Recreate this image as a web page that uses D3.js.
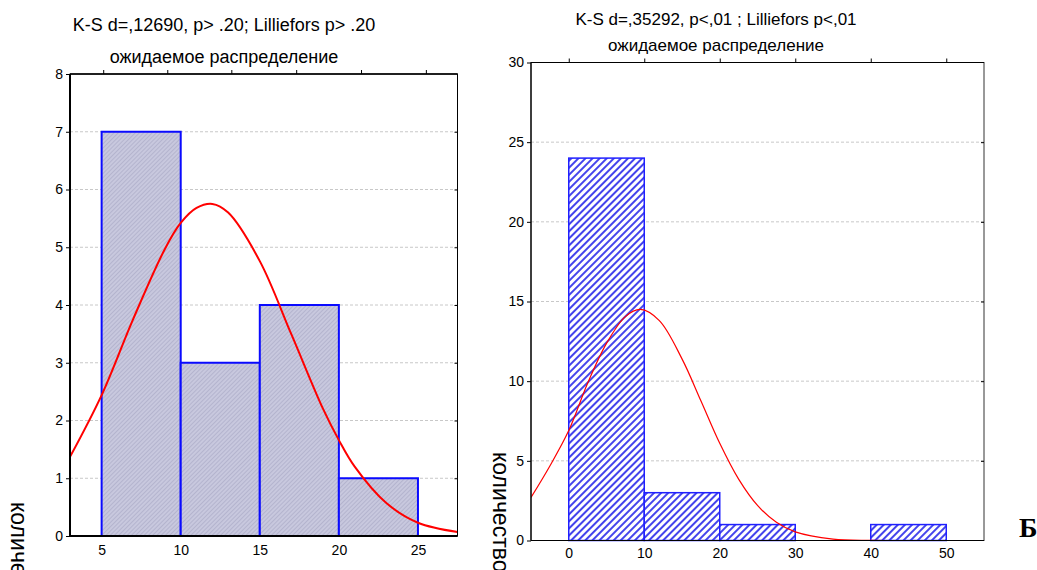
<!DOCTYPE html>
<meta charset="utf-8">
<style>
body { margin: 0; background: #fff; }
svg { display: block; font-family: Arial, "Liberation Sans", sans-serif; }
.grid line { stroke: #c8c8c8; stroke-dasharray: 3,2; }
.tick text { fill: #000; }
</style>
<body>
<script src="https://d3js.org/d3.v7.min.js"></script>
<script>

// ---- data ----
// left histogram (A)
var leftEdges  = [5, 10, 15, 20, 25];
var leftCounts = [7, 3, 4, 1];
var leftXTicks = [5, 10, 15, 20, 25];
var leftYTicks = [0, 1, 2, 3, 4, 5, 6, 7, 8];
var leftTopTicks = [5.1, 9.15, 13.2, 17.3, 21.4, 25.5];
// expected (fitted) curve
var leftCurveX = [3, 5, 7, 9, 10, 11, 12, 13, 15, 17, 19, 20, 21, 23, 25, 27.5];
var leftCurveY = [1.37, 2.44, 3.76, 4.97, 5.42, 5.68, 5.75, 5.6, 4.76, 3.49, 2.2, 1.66, 1.2, 0.57, 0.23, 0.07];
var leftTitle = ["K-S d=,12690, p> .20; Lilliefors p> .20", "ожидаемое распределение"];

// right histogram (Б)
var rightEdges  = [0, 10, 20, 30, 40, 50];
var rightCounts = [24, 3, 1, 0, 1];
var rightXTicks = [0, 10, 20, 30, 40, 50];
var rightYTicks = [0, 5, 10, 15, 20, 25, 30];
var rightCurveX = [-5, -2.5, 0, 2.5, 5, 7.5, 9.5, 12, 15, 17.5, 20, 22.5, 25, 27.5, 30, 35, 40, 45, 55];
var rightCurveY = [2.7, 4.68, 6.9, 9.87, 12.37, 14.05, 14.5, 13.8, 11.4, 8.77, 6.1, 3.85, 2.2, 1.14, 0.54, 0.09, 0.01, 0, 0];
var rightTitle = ["K-S d=,35292, p<,01 ; Lilliefors p<,01", "ожидаемое распределение"];

var yLabel = "количество";
var panelLetter = "Б";

var W = 1037, H = 570;
var svg = d3.select("body").append("svg").attr("width", W).attr("height", H);

// patterns
var defs = svg.append("defs");
var p1 = defs.append("pattern").attr("id", "fine")
    .attr("patternUnits", "userSpaceOnUse").attr("width", 3).attr("height", 3)
    .attr("patternTransform", "rotate(45)");
p1.append("rect").attr("width", 3).attr("height", 3).attr("fill", "#c8c8de");
p1.append("line").attr("x1", 0).attr("y1", 0).attr("x2", 0).attr("y2", 3)
    .attr("stroke", "#a6a6c4").attr("stroke-width", 1.2);

var p2 = defs.append("pattern").attr("id", "hatch")
    .attr("patternUnits", "userSpaceOnUse").attr("width", 5).attr("height", 5)
    .attr("patternTransform", "rotate(45)");
p2.append("rect").attr("width", 5).attr("height", 5).attr("fill", "#fff");
p2.append("line").attr("x1", 1).attr("y1", 0).attr("x2", 1).attr("y2", 5)
    .attr("stroke", "#1414e8").attr("stroke-width", 1.6);

function panel(o) {
  var x = d3.scaleLinear().domain(o.xDomain).range([o.left, o.right]);
  var y = d3.scaleLinear().domain(o.yDomain).range([o.bottom, o.top]);
  var g = svg.append("g");
  var clipId = "clip" + o.id;
  defs.append("clipPath").attr("id", clipId).append("rect")
      .attr("x", o.left).attr("y", o.top)
      .attr("width", o.right - o.left).attr("height", o.bottom - o.top);

  // horizontal grid
  g.append("g").attr("class", "grid")
    .selectAll("line").data(o.yTicks.slice(1, -1)).join("line")
      .attr("x1", o.left).attr("x2", o.right)
      .attr("y1", d => y(d)).attr("y2", d => y(d));

  // bars
  var bins = o.counts.map((c, i) => ({x0: o.edges[i], x1: o.edges[i + 1], c: c}));
  g.append("g").selectAll("rect").data(bins).join("rect")
      .attr("x", d => x(d.x0)).attr("width", d => x(d.x1) - x(d.x0))
      .attr("y", d => y(d.c)).attr("height", d => y(0) - y(d.c))
      .attr("fill", o.fill).attr("stroke", o.barStroke).attr("stroke-width", o.barWidth);

  // fitted curve
  var pts = o.curveX.map((v, i) => [v, o.curveY[i]]);
  g.append("path").datum(pts)
      .attr("clip-path", "url(#" + clipId + ")")
      .attr("fill", "none").attr("stroke", "#ff0000").attr("stroke-width", o.curveWidth)
      .attr("d", d3.line().x(d => x(d[0])).y(d => y(d[1])).curve(d3.curveCatmullRom.alpha(0.5)));

  // frame
  g.append("rect").attr("x", o.left).attr("y", o.top)
      .attr("width", o.right - o.left).attr("height", o.bottom - o.top)
      .attr("fill", "none").attr("stroke", o.frame).attr("stroke-width", 1);
  g.append("line").attr("x1", o.left).attr("x2", o.left).attr("y1", o.top).attr("y2", o.bottom)
      .attr("stroke", "#000").attr("stroke-width", o.axisWidth);
  g.append("line").attr("x1", o.left).attr("x2", o.right).attr("y1", o.bottom).attr("y2", o.bottom)
      .attr("stroke", "#000").attr("stroke-width", o.axisWidth);
  g.append("line").attr("x1", o.left).attr("x2", o.right).attr("y1", o.top).attr("y2", o.top)
      .attr("stroke", "#000").attr("stroke-width", o.axisWidth > 1.5 ? 1.5 : 1);

  // left axis
  var ya = g.append("g").attr("transform", "translate(" + o.left + ",0)")
      .call(d3.axisLeft(y).tickValues(o.yTicks).tickSize(4).tickPadding(3).tickFormat(d3.format("d")));
  ya.select(".domain").remove();
  ya.selectAll("text").attr("font-size", 14).attr("font-family", "Arial, 'Liberation Sans', sans-serif");
  // right inner ticks
  var yr = g.append("g").attr("transform", "translate(" + o.right + ",0)")
      .call(d3.axisLeft(y).tickValues(o.yTicks.slice(1, -1)).tickSize(3).tickFormat(""));
  yr.select(".domain").remove();

  // bottom axis labels
  var xa = g.append("g").attr("transform", "translate(0," + o.bottom + ")")
      .call(d3.axisBottom(x).tickValues(o.xTicks).tickSize(0).tickPadding(o.xPad));
  xa.select(".domain").remove();
  xa.selectAll("text").attr("font-size", 14).attr("font-family", "Arial, 'Liberation Sans', sans-serif");

  // top ticks
  var xt = g.append("g").attr("transform", "translate(0," + o.top + ")")
      .call(d3.axisTop(x).tickValues(o.topTicks).tickSize(4).tickFormat(""));
  xt.select(".domain").remove();

  // titles
  g.selectAll("text.title").data(o.title).join("text").attr("class", "title")
      .attr("x", o.titleX).attr("y", (d, i) => o.titleY[i])
      .attr("text-anchor", "middle").attr("font-size", o.titleSize).text(d => d);

  // y label
  g.append("text").attr("transform", "translate(" + o.labelX + "," + o.labelY + ") rotate(90)")
      .attr("font-size", 23).text(yLabel);
}

panel({
  id: "L", xDomain: [3, 27.5], yDomain: [0, 8],
  left: 70, right: 457.5, top: 74, bottom: 536,
  edges: leftEdges, counts: leftCounts, xTicks: leftXTicks, yTicks: leftYTicks,
  topTicks: leftTopTicks, curveX: leftCurveX, curveY: leftCurveY,
  fill: "url(#fine)", barStroke: "#0a0aff", barWidth: 2, curveWidth: 2,
  frame: "#000", axisWidth: 2, xPad: 9,
  title: leftTitle, titleX: 224, titleY: [31, 63], titleSize: 18,
  labelX: 11, labelY: 502
});

panel({
  id: "R", xDomain: [-5, 55], yDomain: [0, 30],
  left: 531, right: 984, top: 62.5, bottom: 540.5,
  edges: rightEdges, counts: rightCounts, xTicks: rightXTicks, yTicks: rightYTicks,
  topTicks: rightXTicks, curveX: rightCurveX, curveY: rightCurveY,
  fill: "url(#hatch)", barStroke: "#2020ff", barWidth: 1.5, curveWidth: 1.2,
  frame: "#333", axisWidth: 1.2, xPad: 8,
  title: rightTitle, titleX: 716, titleY: [25, 51], titleSize: 17,
  labelX: 493, labelY: 452
});

svg.append("text").attr("x", 1019).attr("y", 537)
    .attr("font-family", "'Liberation Serif', 'Times New Roman', serif")
    .attr("font-weight", "bold").attr("font-size", 28).text(panelLetter);

</script>
</body>
